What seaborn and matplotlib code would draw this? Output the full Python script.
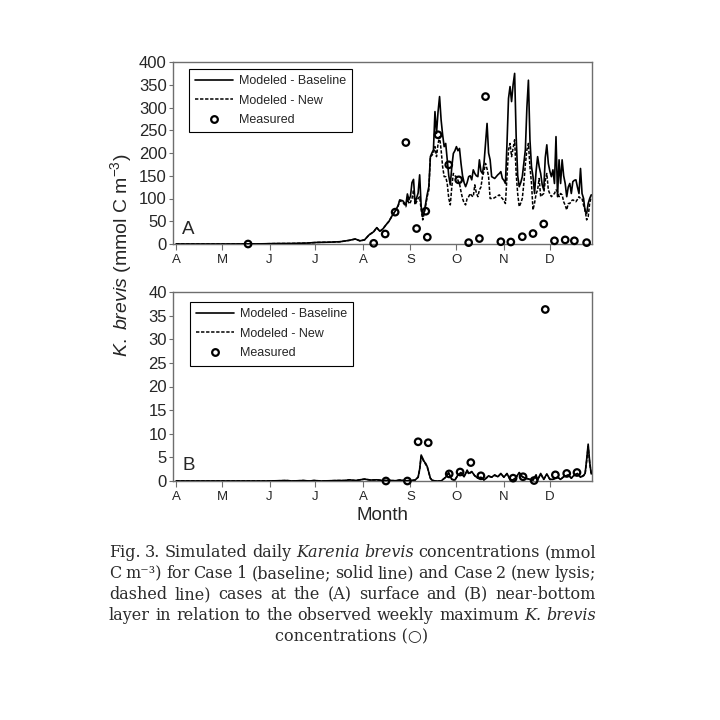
import matplotlib
matplotlib.use("Agg")
import matplotlib.pyplot as plt
from matplotlib.lines import Line2D
import seaborn as sns
import pandas as pd

# ---------------- data (day 0 = 1 April) ----------------
month_ticks = [0, 30, 61, 91, 122, 153, 183, 214, 244]
month_labels = ["A", "M", "J", "J", "A", "S", "O", "N", "D"]

a_days = [0, 30, 55, 65, 75, 85, 92, 100, 107, 113, 117, 120, 123, 126, 129, 131, 133, 135,
          137, 139, 141, 143, 145, 146, 148, 150, 151, 152, 153, 154, 155, 156, 158, 159, 160,
          161, 162, 164, 165, 166, 167, 168, 169, 170, 171, 172, 173, 174, 175, 176, 177, 178,
          179, 180, 181, 182, 183, 184, 185, 186, 187, 188, 189, 190, 191, 192, 193, 194, 195,
          196, 197, 198, 199, 200, 201, 202, 203, 204, 205, 206, 207, 208, 209, 210, 211, 212,
          213, 214, 215, 216, 217, 218, 219, 220, 221, 222, 223, 224, 225, 226, 227, 228, 229,
          230, 231, 232, 233, 234, 235, 236, 237, 238, 239, 240, 241, 242, 243, 244, 245, 246,
          247, 248, 249, 250, 251, 252, 253, 254, 255, 256, 257, 258, 259, 260, 261, 262, 263,
          264, 265, 266, 267, 268, 269, 270, 271]
a_base = [0, 0, 0.3, 1, 1.2, 2, 3.5, 4, 5, 8, 11, 7, 9, 20, 27, 36, 28, 33,
          42, 50, 62, 72, 85, 97, 95, 86, 110, 97, 105, 135, 142, 90, 112, 152, 82,
          60, 71, 110, 126, 192, 200, 207, 291, 243, 290, 324, 273, 240, 214, 221, 185, 150,
          130, 170, 199, 205, 214, 205, 210, 177, 150, 135, 126, 135, 148, 150, 141, 163, 155,
          150, 148, 185, 160, 155, 177, 220, 265, 200, 185, 148, 146, 144, 148, 152, 155, 159,
          144, 140, 133, 220, 320, 346, 313, 350, 375, 236, 150, 126, 135, 148, 177, 207, 300,
          360, 229, 170, 148, 111, 160, 192, 170, 155, 130, 119, 190, 218, 177, 160, 148, 163,
          133, 236, 104, 185, 133, 185, 150, 133, 104, 125, 133, 111, 137, 140, 141, 125, 111,
          166, 111, 100, 72, 67, 89, 100, 108]
a_new = [0, 0, 0.3, 1, 1.2, 2, 3.5, 4, 5, 8, 11, 7, 9, 20, 27, 36, 28, 33,
         42, 50, 62, 72, 84, 95, 92, 82, 100, 88, 92, 100, 119, 86, 100, 104, 75,
         53, 67, 105, 119, 192, 195, 199, 214, 192, 220, 236, 207, 170, 148, 148, 133, 100,
         86, 126, 155, 150, 148, 140, 133, 115, 100, 90, 86, 100, 104, 111, 106, 104, 130,
         112, 104, 119, 125, 148, 160, 177, 165, 148, 100, 100, 100, 102, 104, 106, 108, 103,
         100, 95, 89, 150, 207, 221, 192, 210, 229, 155, 110, 82, 90, 100, 133, 175, 207,
         221, 170, 133, 75, 90, 110, 119, 144, 104, 108, 111, 140, 155, 119, 110, 104, 108,
         111, 119, 115, 104, 111, 108, 93, 85, 75, 89, 89, 95, 97, 95, 93, 98, 104,
         100, 100, 85, 75, 53, 60, 90, 104]
a_meas_days = [47, 129, 136.5, 143, 150, 157, 163, 164, 171, 178, 184.5, 191, 198, 202,
               212, 218.5, 226, 233, 240, 247, 254, 260, 268]
a_meas_vals = [0, 1.5, 22, 70, 223, 34, 72, 15, 240, 174, 141, 3, 12, 324,
               5, 4.4, 16, 23, 44, 7, 9, 7, 3]

b_days = [0, 60, 72, 76, 83, 87, 90, 95, 105, 110, 113, 117, 123, 127, 131, 135, 139, 143,
          146, 150, 153, 156, 158, 159, 160, 161, 162, 163, 164, 165, 166, 167, 169, 173, 176,
          178, 179, 180, 182, 184, 186, 188, 190, 191, 193, 195, 197, 199, 201, 204, 206, 208,
          210, 212, 214, 216, 218, 220, 222, 224, 226, 228, 231, 233, 235, 236, 238, 240, 242,
          244, 246, 249, 251, 253, 256, 258, 260, 262, 264, 266, 267, 268, 269, 270, 271]
b_base = [0, 0, 0.1, 0, 0.1, 0, 0.1, 0, 0.1, 0.1, 0.25, 0.1, 0.4, 0.2, 0.25, 0.1, 0.15, 0.05,
          0.2, 0.05, 0.1, 0.2, 0.8, 2.5, 5.5, 4.8, 4.1, 3.7, 3.0, 1.8, 0.6, 0.2, 0, 0, 0.8,
          1.8, 0.9, 0.35, 0.2, 1.3, 1.8, 0.9, 2.3, 1.6, 2.0, 1.1, 0.6, 0.8, 0.2, 1.1, 0.8, 1.3,
          0.9, 1.6, 0.8, 1.6, 0.35, 0.2, 0.8, 1.8, 0.9, 0.6, 0.35, 0.2, 1.3, 0.2, 1.6, 0.35, 1.5,
          0.35, 0.35, 0.8, 0.35, 0.9, 1.3, 0.6, 1.3, 1.6, 0.8, 1.2, 1.6, 4.5, 7.8, 4.0, 1.5]
b_new = [0, 0, 0.1, 0, 0.1, 0, 0.1, 0, 0.1, 0.1, 0.25, 0.1, 0.4, 0.2, 0.25, 0.1, 0.15, 0.05,
         0.2, 0.05, 0.1, 0.2, 0.8, 2.4, 5.2, 4.6, 3.9, 3.5, 2.9, 1.7, 0.6, 0.2, 0, 0, 0.8,
         1.7, 0.9, 0.35, 0.2, 1.2, 1.7, 0.9, 2.2, 1.5, 1.9, 1.1, 0.6, 0.8, 0.2, 1.0, 0.8, 1.2,
         0.9, 1.5, 0.8, 1.5, 0.35, 0.2, 0.8, 1.7, 0.9, 0.6, 0.35, 0.2, 1.2, 0.2, 1.5, 0.35, 1.4,
         0.35, 0.35, 0.8, 0.35, 0.9, 1.2, 0.6, 1.2, 1.5, 0.8, 1.1, 1.5, 4.2, 7.3, 3.8, 1.4]
b_meas_days = [137, 151, 158, 164.6, 178.3, 185.4, 192.4, 199, 220, 226.5, 233.7, 241,
               247.6, 255, 261.7]
b_meas_vals = [0, 0, 8.3, 8.1, 1.5, 1.9, 3.9, 1.1, 0.6, 0.9, 0.1, 36.3, 1.3, 1.6, 1.8]

legend_labels = ["Modeled - Baseline", "Modeled - New", "Measured"]

# ---------------- style ----------------
sns.set_theme(style="white")
plt.rcParams["font.family"] = ["Liberation Sans", "DejaVu Sans"]
plt.rcParams["mathtext.fontset"] = "custom"
plt.rcParams["mathtext.rm"] = "Liberation Sans"
plt.rcParams["mathtext.it"] = "Liberation Sans:italic"

SPINE = "#6e6e6e"
DASH = (2.2, 1.1)

fig = plt.figure(figsize=(7.2, 7.2), dpi=100)
fig.patch.set_facecolor("white")
W = H = 720.0


def fx(px):
    return px / W


def fy(py):
    return 1 - py / H


axA = fig.add_axes([fx(173), fy(244), 419 / W, 182 / H])
axB = fig.add_axes([fx(173), fy(481), 419 / W, 189 / H])

dfA = pd.DataFrame({"day": a_days, "base": a_base, "new": a_new})
dfAm = pd.DataFrame({"day": a_meas_days, "val": a_meas_vals})
dfB = pd.DataFrame({"day": b_days, "base": b_base, "new": b_new})
dfBm = pd.DataFrame({"day": b_meas_days, "val": b_meas_vals})


def panel(ax, df, dfm, ymax, ystep, letter, leg_anchor):
    sns.lineplot(data=df, x="day", y="base", ax=ax, color="black", lw=1.2, zorder=3)
    sns.lineplot(data=df, x="day", y="new", ax=ax, color="black", lw=1.1,
                 dashes=False, linestyle=(0, DASH), zorder=3)
    sns.scatterplot(data=dfm, x="day", y="val", ax=ax, marker="o", s=22,
                    facecolor="none", edgecolor="black", linewidth=1.6, zorder=4,
                    clip_on=False)
    ax.set_xlim(-2, 271.5)
    ax.set_ylim(0, ymax)
    ax.set_xticks(month_ticks)
    ax.set_xticklabels(month_labels, fontsize=9.5)
    ax.set_yticks(range(0, ymax + 1, ystep))
    ax.tick_params(axis="y", labelsize=12, length=3, width=0.8, color=SPINE, pad=1.5,
                   direction="out", left=True)
    ax.tick_params(axis="x", labelsize=9.5, length=4, width=0.8, color=SPINE, pad=3,
                   direction="out", bottom=True)
    for s in ax.spines.values():
        s.set_color(SPINE)
        s.set_linewidth(1.0)
    ax.set_xlabel("")
    ax.set_ylabel("")
    ax.text(0.022, 0.035, letter, transform=ax.transAxes, fontsize=13.5,
            ha="left", va="bottom")
    handles = [Line2D([], [], color="black", lw=1.2),
               Line2D([], [], color="black", lw=1.1, linestyle=(0, DASH)),
               Line2D([], [], color="none", marker="o", markersize=4.8,
                      markerfacecolor="none", markeredgecolor="black", markeredgewidth=1.6)]
    leg = ax.legend(handles=handles, labels=legend_labels, loc="upper left",
                    bbox_to_anchor=leg_anchor, fontsize=9, frameon=True, fancybox=False,
                    framealpha=1, edgecolor="black", handlelength=3.0, handletextpad=0.5,
                    borderpad=0.5, labelspacing=0.6, borderaxespad=0)
    leg.get_frame().set_linewidth(0.8)


panel(axA, dfA, dfAm, 400, 50, "A", (0.038, 0.962))
panel(axB, dfB, dfBm, 40, 5, "B", (0.040, 0.947))

# axis titles
fig.text(fx(121), fy(255), r"$\it{K.\ brevis}$ (mmol C m$^{-3}$)", rotation=90,
         ha="center", va="center", fontsize=14)
fig.text(fx(382), fy(516), "Month", ha="center", va="center", fontsize=13.5)

# ---------------- caption (justified) ----------------
CAP_COLOR = "#2b2b2b"
CAP_FAM = ["DejaVu Serif", "DejaVu Sans"]
CAP_SIZE = 11.5
cap_lines = [
    [("Fig.", "n"), ("3.", "n"), ("Simulated", "n"), ("daily", "n"), ("Karenia", "i"),
     ("brevis", "i"), ("concentrations", "n"), ("(mmol", "n")],
    [("C", "n"), ("m\u207b\u00b3)", "n"), ("for", "n"), ("Case", "n"), ("1", "n"),
     ("(baseline;", "n"), ("solid", "n"), ("line)", "n"), ("and", "n"), ("Case", "n"),
     ("2", "n"), ("(new", "n"), ("lysis;", "n")],
    [("dashed", "n"), ("line)", "n"), ("cases", "n"), ("at", "n"), ("the", "n"), ("(A)", "n"),
     ("surface", "n"), ("and", "n"), ("(B)", "n"), ("near-bottom", "n")],
    [("layer", "n"), ("in", "n"), ("relation", "n"), ("to", "n"), ("the", "n"),
     ("observed", "n"), ("weekly", "n"), ("maximum", "n"), ("K.", "i"), ("brevis", "i")],
]
last_line = "concentrations (\u25cb)"
x0, x1 = 109, 596
baselines = [557, 578, 599, 620, 641]

renderer = fig.canvas.get_renderer()
for li, words in enumerate(cap_lines):
    widths = []
    objs = []
    for w, st in words:
        t = fig.text(0, fy(baselines[li]), w, fontsize=CAP_SIZE, family=CAP_FAM,
                     style="italic" if st == "i" else "normal", color=CAP_COLOR,
                     ha="left", va="baseline")
        widths.append(t.get_window_extent(renderer).width)
        objs.append(t)
    gap = max(2.0, ((x1 - x0) - sum(widths)) / (len(words) - 1))
    xpos = x0
    for t, wd in zip(objs, widths):
        t.set_x(fx(xpos))
        xpos += wd + gap
fig.text(fx(352), fy(baselines[4]), last_line, fontsize=CAP_SIZE, family=CAP_FAM,
         color=CAP_COLOR, ha="center", va="baseline")

fig.savefig("out.png", dpi=100, facecolor="white")
